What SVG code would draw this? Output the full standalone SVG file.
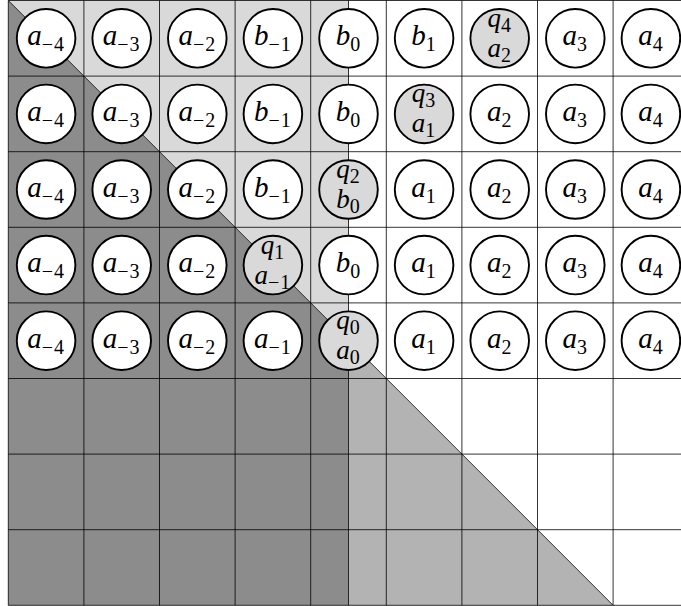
<svg xmlns="http://www.w3.org/2000/svg" width="681" height="606" viewBox="0 0 681 606">
<style>
.grid{stroke:#000;stroke-width:0.8;fill:none}
.nd{stroke:#000;stroke-width:1.9;fill:#fff}
.nd.q{fill:#d9d9d9}
.lbl{font-family:"Liberation Serif","Times New Roman",serif;font-size:29px;font-style:italic;text-anchor:middle;fill:#000}
.l2{font-size:27px}
.sub{font-size:20px;font-style:normal;letter-spacing:1px}
</style>
<rect x="0" y="0" width="681" height="606" fill="#fff"/>
<g id="shading">
<polygon points="8.3,0.5 348.5,0.5 348.5,340.7" fill="#d9d9d9"/>
<polygon points="8.3,0.5 348.5,340.7 348.5,605.3 8.3,605.3" fill="#8c8c8c"/>
<polygon points="348.5,340.7 613.1,605.3 348.5,605.3" fill="#b3b3b3"/>
</g>
<g id="grid">
<path class="grid" d="M8.3,0.5V605.3M83.9,0.5V605.3M159.5,0.5V605.3M235.1,0.5V605.3M310.7,0.5V605.3M386.3,0.5V605.3M461.9,0.5V605.3M537.5,0.5V605.3M613.1,0.5V605.3M8.3,0.5H681M8.3,76.1H681M8.3,151.7H681M8.3,227.3H681M8.3,302.9H681M8.3,378.5H681M8.3,454.1H681M8.3,529.7H681M8.3,605.3H681"/>
<path class="grid" d="M8.3,0.5L613.1,605.3"/>
</g>
<g id="connectors">
<path class="grid" d="M348.5,0.5V605.3"/>
</g>
<g id="nodes">
<g id="n1-1"><circle class="nd" cx="46.1" cy="38.3" r="29.3"/><text class="lbl" x="46.1" y="45.3">a<tspan class="sub" dy="6">−4</tspan></text></g>
<g id="n1-2"><circle class="nd" cx="121.7" cy="38.3" r="29.3"/><text class="lbl" x="121.7" y="45.3">a<tspan class="sub" dy="6">−3</tspan></text></g>
<g id="n1-3"><circle class="nd" cx="197.3" cy="38.3" r="29.3"/><text class="lbl" x="197.3" y="45.3">a<tspan class="sub" dy="6">−2</tspan></text></g>
<g id="n1-4"><circle class="nd" cx="272.9" cy="38.3" r="29.3"/><text class="lbl" x="272.9" y="45.3">b<tspan class="sub" dy="6">−1</tspan></text></g>
<g id="n1-5"><circle class="nd" cx="348.5" cy="38.3" r="29.3"/><text class="lbl" x="348.5" y="45.3">b<tspan class="sub" dy="6">0</tspan></text></g>
<g id="n1-6"><circle class="nd" cx="424.1" cy="38.3" r="29.3"/><text class="lbl" x="424.1" y="45.3">b<tspan class="sub" dy="6">1</tspan></text></g>
<g id="n1-7"><circle class="nd q" cx="499.7" cy="38.3" r="29.3"/><text class="lbl l2" x="499.7" y="26.8">q<tspan class="sub" dy="5">4</tspan></text><text class="lbl l2" x="499.7" y="56.8">a<tspan class="sub" dy="5">2</tspan></text></g>
<g id="n1-8"><circle class="nd" cx="575.3" cy="38.3" r="29.3"/><text class="lbl" x="575.3" y="45.3">a<tspan class="sub" dy="6">3</tspan></text></g>
<g id="n1-9"><circle class="nd" cx="650.9" cy="38.3" r="29.3"/><text class="lbl" x="650.9" y="45.3">a<tspan class="sub" dy="6">4</tspan></text></g>

<g id="n2-1"><circle class="nd" cx="46.1" cy="113.9" r="29.3"/><text class="lbl" x="46.1" y="120.9">a<tspan class="sub" dy="6">−4</tspan></text></g>
<g id="n2-2"><circle class="nd" cx="121.7" cy="113.9" r="29.3"/><text class="lbl" x="121.7" y="120.9">a<tspan class="sub" dy="6">−3</tspan></text></g>
<g id="n2-3"><circle class="nd" cx="197.3" cy="113.9" r="29.3"/><text class="lbl" x="197.3" y="120.9">a<tspan class="sub" dy="6">−2</tspan></text></g>
<g id="n2-4"><circle class="nd" cx="272.9" cy="113.9" r="29.3"/><text class="lbl" x="272.9" y="120.9">b<tspan class="sub" dy="6">−1</tspan></text></g>
<g id="n2-5"><circle class="nd" cx="348.5" cy="113.9" r="29.3"/><text class="lbl" x="348.5" y="120.9">b<tspan class="sub" dy="6">0</tspan></text></g>
<g id="n2-6"><circle class="nd q" cx="424.1" cy="113.9" r="29.3"/><text class="lbl l2" x="424.1" y="102.4">q<tspan class="sub" dy="5">3</tspan></text><text class="lbl l2" x="424.1" y="132.4">a<tspan class="sub" dy="5">1</tspan></text></g>
<g id="n2-7"><circle class="nd" cx="499.7" cy="113.9" r="29.3"/><text class="lbl" x="499.7" y="120.9">a<tspan class="sub" dy="6">2</tspan></text></g>
<g id="n2-8"><circle class="nd" cx="575.3" cy="113.9" r="29.3"/><text class="lbl" x="575.3" y="120.9">a<tspan class="sub" dy="6">3</tspan></text></g>
<g id="n2-9"><circle class="nd" cx="650.9" cy="113.9" r="29.3"/><text class="lbl" x="650.9" y="120.9">a<tspan class="sub" dy="6">4</tspan></text></g>

<g id="n3-1"><circle class="nd" cx="46.1" cy="189.5" r="29.3"/><text class="lbl" x="46.1" y="196.5">a<tspan class="sub" dy="6">−4</tspan></text></g>
<g id="n3-2"><circle class="nd" cx="121.7" cy="189.5" r="29.3"/><text class="lbl" x="121.7" y="196.5">a<tspan class="sub" dy="6">−3</tspan></text></g>
<g id="n3-3"><circle class="nd" cx="197.3" cy="189.5" r="29.3"/><text class="lbl" x="197.3" y="196.5">a<tspan class="sub" dy="6">−2</tspan></text></g>
<g id="n3-4"><circle class="nd" cx="272.9" cy="189.5" r="29.3"/><text class="lbl" x="272.9" y="196.5">b<tspan class="sub" dy="6">−1</tspan></text></g>
<g id="n3-5"><circle class="nd q" cx="348.5" cy="189.5" r="29.3"/><text class="lbl l2" x="348.5" y="178">q<tspan class="sub" dy="5">2</tspan></text><text class="lbl l2" x="348.5" y="208">b<tspan class="sub" dy="5">0</tspan></text></g>
<g id="n3-6"><circle class="nd" cx="424.1" cy="189.5" r="29.3"/><text class="lbl" x="424.1" y="196.5">a<tspan class="sub" dy="6">1</tspan></text></g>
<g id="n3-7"><circle class="nd" cx="499.7" cy="189.5" r="29.3"/><text class="lbl" x="499.7" y="196.5">a<tspan class="sub" dy="6">2</tspan></text></g>
<g id="n3-8"><circle class="nd" cx="575.3" cy="189.5" r="29.3"/><text class="lbl" x="575.3" y="196.5">a<tspan class="sub" dy="6">3</tspan></text></g>
<g id="n3-9"><circle class="nd" cx="650.9" cy="189.5" r="29.3"/><text class="lbl" x="650.9" y="196.5">a<tspan class="sub" dy="6">4</tspan></text></g>

<g id="n4-1"><circle class="nd" cx="46.1" cy="265.1" r="29.3"/><text class="lbl" x="46.1" y="272.1">a<tspan class="sub" dy="6">−4</tspan></text></g>
<g id="n4-2"><circle class="nd" cx="121.7" cy="265.1" r="29.3"/><text class="lbl" x="121.7" y="272.1">a<tspan class="sub" dy="6">−3</tspan></text></g>
<g id="n4-3"><circle class="nd" cx="197.3" cy="265.1" r="29.3"/><text class="lbl" x="197.3" y="272.1">a<tspan class="sub" dy="6">−2</tspan></text></g>
<g id="n4-4"><circle class="nd q" cx="272.9" cy="265.1" r="29.3"/><text class="lbl l2" x="272.9" y="253.6">q<tspan class="sub" dy="5">1</tspan></text><text class="lbl l2" x="272.9" y="283.6">a<tspan class="sub" dy="5">−1</tspan></text></g>
<g id="n4-5"><circle class="nd" cx="348.5" cy="265.1" r="29.3"/><text class="lbl" x="348.5" y="272.1">b<tspan class="sub" dy="6">0</tspan></text></g>
<g id="n4-6"><circle class="nd" cx="424.1" cy="265.1" r="29.3"/><text class="lbl" x="424.1" y="272.1">a<tspan class="sub" dy="6">1</tspan></text></g>
<g id="n4-7"><circle class="nd" cx="499.7" cy="265.1" r="29.3"/><text class="lbl" x="499.7" y="272.1">a<tspan class="sub" dy="6">2</tspan></text></g>
<g id="n4-8"><circle class="nd" cx="575.3" cy="265.1" r="29.3"/><text class="lbl" x="575.3" y="272.1">a<tspan class="sub" dy="6">3</tspan></text></g>
<g id="n4-9"><circle class="nd" cx="650.9" cy="265.1" r="29.3"/><text class="lbl" x="650.9" y="272.1">a<tspan class="sub" dy="6">4</tspan></text></g>

<g id="n5-1"><circle class="nd" cx="46.1" cy="340.7" r="29.3"/><text class="lbl" x="46.1" y="347.7">a<tspan class="sub" dy="6">−4</tspan></text></g>
<g id="n5-2"><circle class="nd" cx="121.7" cy="340.7" r="29.3"/><text class="lbl" x="121.7" y="347.7">a<tspan class="sub" dy="6">−3</tspan></text></g>
<g id="n5-3"><circle class="nd" cx="197.3" cy="340.7" r="29.3"/><text class="lbl" x="197.3" y="347.7">a<tspan class="sub" dy="6">−2</tspan></text></g>
<g id="n5-4"><circle class="nd" cx="272.9" cy="340.7" r="29.3"/><text class="lbl" x="272.9" y="347.7">a<tspan class="sub" dy="6">−1</tspan></text></g>
<g id="n5-5"><circle class="nd q" cx="348.5" cy="340.7" r="29.3"/><text class="lbl l2" x="348.5" y="329.2">q<tspan class="sub" dy="5">0</tspan></text><text class="lbl l2" x="348.5" y="359.2">a<tspan class="sub" dy="5">0</tspan></text></g>
<g id="n5-6"><circle class="nd" cx="424.1" cy="340.7" r="29.3"/><text class="lbl" x="424.1" y="347.7">a<tspan class="sub" dy="6">1</tspan></text></g>
<g id="n5-7"><circle class="nd" cx="499.7" cy="340.7" r="29.3"/><text class="lbl" x="499.7" y="347.7">a<tspan class="sub" dy="6">2</tspan></text></g>
<g id="n5-8"><circle class="nd" cx="575.3" cy="340.7" r="29.3"/><text class="lbl" x="575.3" y="347.7">a<tspan class="sub" dy="6">3</tspan></text></g>
<g id="n5-9"><circle class="nd" cx="650.9" cy="340.7" r="29.3"/><text class="lbl" x="650.9" y="347.7">a<tspan class="sub" dy="6">4</tspan></text></g>
</g>
</svg>
